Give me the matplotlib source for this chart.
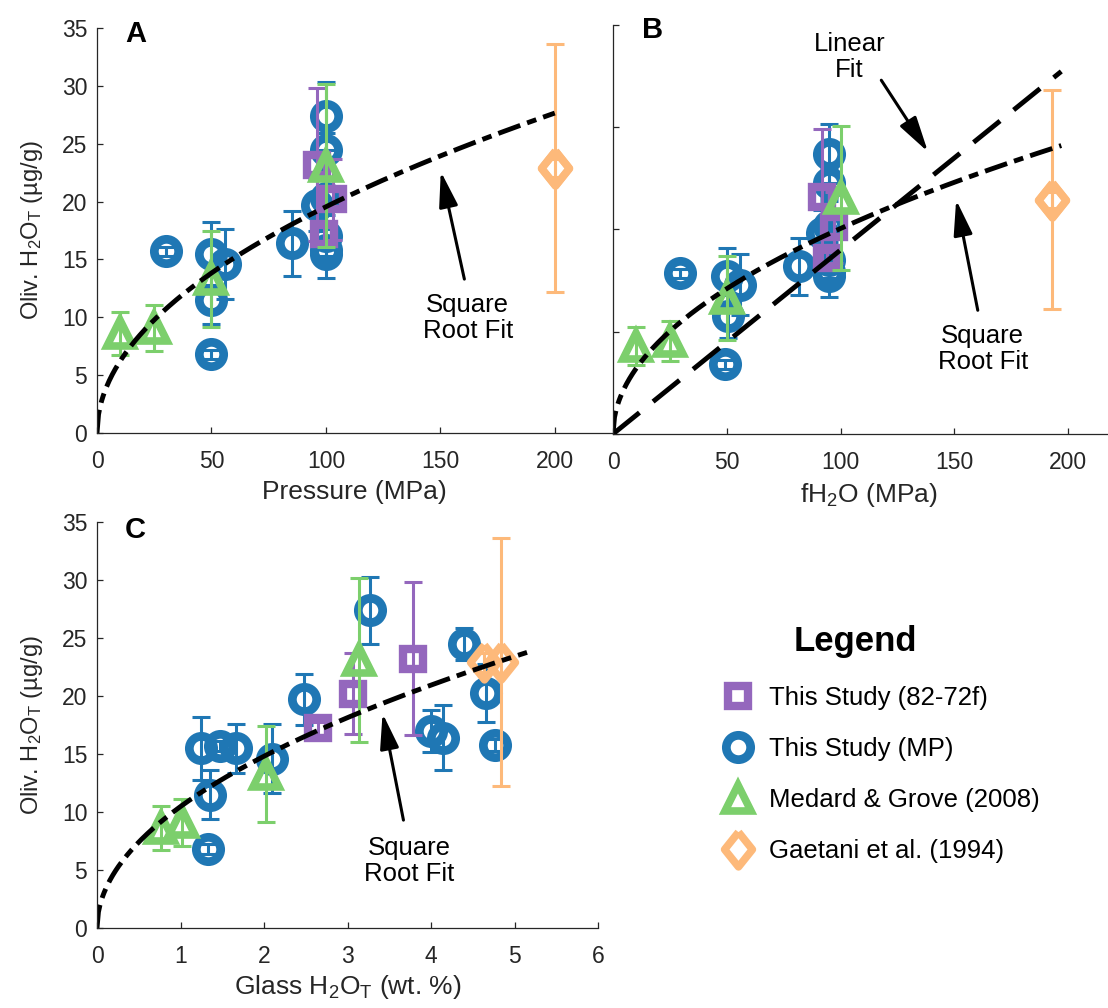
import numpy as np
import matplotlib
matplotlib.use("Agg")
import matplotlib.pyplot as plt
from matplotlib.lines import Line2D

plt.rcParams['font.family'] = ['Liberation Sans', 'DejaVu Sans']
plt.rcParams['mathtext.default'] = 'regular'

# ---- data ----
# This Study (MP) - blue circles
mp_y = [15.7, 6.8, 11.5, 15.5, 14.6, 16.4, 27.4, 24.5, 19.7, 20.3, 17.0, 15.8, 15.5]
mp_err = [0.4, 0.4, 2.1, 2.7, 3.0, 2.8, 2.9, 1.4, 2.2, 2.5, 1.8, 0.5, 2.1]
mp_p = [30, 50, 50, 50, 56, 85, 100, 100, 96, 100, 100, 100, 100]
mp_f = [29.6, 49, 50.5, 50, 56, 81.7, 95, 95, 92, 95, 95, 95, 95]
mp_glass = [1.47, 1.33, 1.35, 1.24, 2.10, 4.14, 3.27, 4.40, 2.48, 4.66, 4.00, 4.77, 1.67]

# This Study (82-72f) - purple squares
pu_y = [17.2, 20.2, 23.2]
pu_err = [0.6, 3.5, 6.6]
pu_p = [99, 103, 96]
pu_f = [94, 97, 92]
pu_glass = [2.65, 3.07, 3.78]

# Medard & Grove (2008) - green triangles
gr_y = [8.6, 9.1, 13.3, 23.1]
gr_err = [1.9, 2.0, 4.15, 7.05]
gr_p = [10, 25, 50, 100]
gr_f = [10, 25, 50, 100]
gr_glass = [0.77, 1.02, 2.02, 3.14]

# Gaetani et al. (1994) - orange diamonds
or_y = [22.9, 22.9]
or_err = [10.7, 0.8]
or_p = [200, 200]
or_f = [193, 193]
or_glass = [4.84, 4.63]

# fit coefficients
sqrt_coef_p = 1.955
sqrt_coef_f = 2.01
lin_coef_f = 0.18
sqrt_coef_g = 10.47

c_pu = '#9467bd'
c_mp = '#1f77b4'
c_gr = '#7ccf6c'
c_or = '#fdb97a'
c_ax = '#262626'

diamond = [(0, 1), (0.8, 0), (0, -1), (-0.8, 0), (0, 1)]

styles = [
    ('s', c_pu, 14.5, 6.0),
    ('o', c_mp, 17.5, 6.3),
    ('^', c_gr, 18.5, 5.5),
    (diamond, c_or, 25, 5.5),
]
names = ['This Study (82-72f)', 'This Study (MP)',
         'Medard & Grove (2008)', 'Gaetani et al. (1994)']

dashdot = (4.8, 1.5, 2.0, 1.5)
dashed = (7.0, 3.6)

FS_TICK = 16.5
FS_LAB = 19
FS_YLAB = 17
FS_NOTE = 18.5


def draw_sets(ax, xs):
    ys = [mp_y, pu_y, gr_y, or_y]
    es = [mp_err, pu_err, gr_err, or_err]
    order = [1, 0, 2, 3]
    for k, i in enumerate(order):
        mk, col, ms, mew = styles[i]
        ax.errorbar(xs[k], ys[k], yerr=es[k], fmt='none', ecolor=col,
                    elinewidth=2.2, capsize=6.5, capthick=2.2)
        ax.plot(xs[k], ys[k], ls='none', marker=mk, ms=ms, mew=mew,
                mec=col, mfc='none')


def style_ax(ax):
    for s in ['top', 'right']:
        ax.spines[s].set_visible(False)
    for s in ['left', 'bottom']:
        ax.spines[s].set_color(c_ax)
        ax.spines[s].set_linewidth(0.9)
    ax.tick_params(direction='in', length=4, width=0.9, colors=c_ax,
                   labelsize=FS_TICK)
    ax.tick_params(axis='x', pad=12)
    ax.tick_params(axis='y', pad=7)


def arrow(ax, tail, head):
    ax.annotate('', xy=head, xytext=tail,
                arrowprops=dict(arrowstyle='-|>,head_length=1.2,head_width=0.32',
                                color='black', lw=2.2, mutation_scale=18,
                                shrinkA=0, shrinkB=0))


fig = plt.figure(figsize=(11.08, 10.08), dpi=100)

# ---- panel A ----
axA = fig.add_axes([97 / 1108, 1 - 433 / 1008, 515 / 1108, 405 / 1008])
draw_sets(axA, [mp_p, pu_p, gr_p, or_p])
xx = np.linspace(0, 200, 300)
axA.plot(xx, sqrt_coef_p * np.sqrt(xx), color='black', lw=3.5,
         dashes=dashdot, dash_capstyle='butt')
axA.set_xlim(0, 225)
axA.set_ylim(0, 35)
axA.set_xticks([0, 50, 100, 150, 200])
axA.set_yticks(range(0, 36, 5))
axA.set_xlabel('Pressure (MPa)', fontsize=FS_LAB, color=c_ax, labelpad=5)
axA.set_ylabel('Oliv. H$_2$O$_T$ (\u00b5g/g)', fontsize=FS_YLAB, color=c_ax,
               labelpad=12)
style_ax(axA)
axA.text(162, 9.9, 'Square\nRoot Fit', ha='center', va='center',
         fontsize=FS_NOTE, linespacing=1.1)
arrow(axA, (160.5, 13.3), (150.2, 22.6))
axA.text(0.075, 0.985, 'A', transform=axA.transAxes, fontsize=21,
         fontweight='bold', ha='center', va='center')

# ---- panel B ----
axB = fig.add_axes([613 / 1108, 1 - 434 / 1008, 512 / 1108, 409 / 1008])
draw_sets(axB, [mp_f, pu_f, gr_f, or_f])
xx = np.linspace(0, 197, 300)
axB.plot(xx, sqrt_coef_f * np.sqrt(xx), color='black', lw=3.5,
         dashes=dashdot, dash_capstyle='butt')
axB.plot(xx, lin_coef_f * xx, color='black', lw=3.5, dashes=dashed,
         dash_capstyle='butt')
axB.set_xlim(0, 225)
axB.set_ylim(0, 40)
axB.set_xticks([0, 50, 100, 150, 200])
axB.set_yticks(range(0, 41, 10))
axB.set_yticklabels([])
axB.set_xlabel('fH$_2$O (MPa)', fontsize=FS_LAB, color=c_ax, labelpad=5)
style_ax(axB)
axB.text(104, 36.9, 'Linear\nFit', ha='center', va='center',
         fontsize=FS_NOTE, linespacing=1.1)
arrow(axB, (117.9, 34.6), (138.4, 27.6))
axB.text(162.5, 8.3, 'Square\nRoot Fit', ha='center', va='center',
         fontsize=FS_NOTE, linespacing=1.1)
arrow(axB, (160.3, 12.1), (150.8, 22.9))
axB.text(0.078, 0.988, 'B', transform=axB.transAxes, fontsize=21,
         fontweight='bold', ha='center', va='center')

# ---- panel C ----
axC = fig.add_axes([97 / 1108, 1 - 928 / 1008, 501 / 1108, 406 / 1008])
draw_sets(axC, [mp_glass, pu_glass, gr_glass, or_glass])
xx = np.linspace(0, 5.15, 300)
axC.plot(xx, sqrt_coef_g * np.sqrt(xx), color='black', lw=3.5,
         dashes=dashdot, dash_capstyle='butt')
axC.set_xlim(0, 6)
axC.set_ylim(0, 35)
axC.set_xticks(range(0, 7))
axC.set_yticks(range(0, 36, 5))
axC.set_xlabel('Glass H$_2$O$_T$ (wt. %)', fontsize=FS_LAB, color=c_ax,
               labelpad=4)
axC.set_ylabel('Oliv. H$_2$O$_T$ (\u00b5g/g)', fontsize=FS_YLAB, color=c_ax,
               labelpad=12)
style_ax(axC)
axC.text(3.74, 5.75, 'Square\nRoot Fit', ha='center', va='center',
         fontsize=FS_NOTE, linespacing=1.1)
arrow(axC, (3.67, 9.3), (3.42, 18.5))
axC.text(0.076, 0.98, 'C', transform=axC.transAxes, fontsize=21,
         fontweight='bold', ha='center', va='center')

# ---- legend ----
handles = [Line2D([], [], ls='none', marker=mk, ms=ms, mew=mew, mec=col,
                  mfc='white') for mk, col, ms, mew in styles]
fig.legend(handles, names, loc='upper left',
           bbox_to_anchor=(725 / 1108, 1 - 686 / 1008), frameon=False,
           fontsize=18.5, handlelength=1.0, handletextpad=0.7,
           labelspacing=1.05, borderpad=0, borderaxespad=0)
fig.text(855 / 1108, 1 - 641 / 1008, 'Legend', fontsize=25, fontweight='bold',
         ha='center', va='center')

fig.savefig('out.png', dpi=100)
